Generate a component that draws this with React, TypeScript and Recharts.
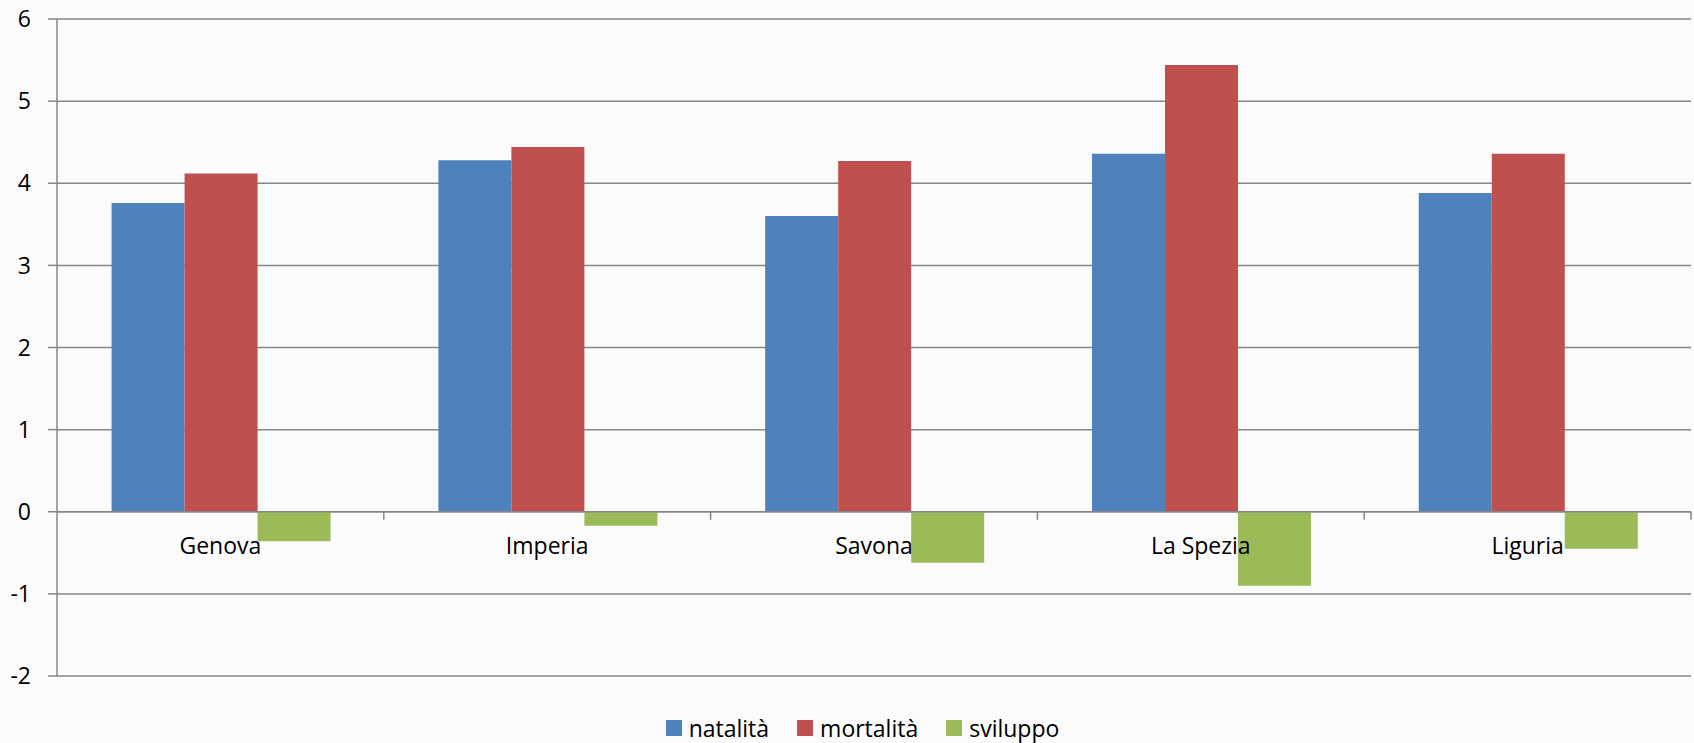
import React from 'react';
import { BarChart, Bar, XAxis, YAxis, CartesianGrid, Legend, ReferenceLine } from 'recharts';

const provinces = ['Genova', 'Imperia', 'Savona', 'La Spezia', 'Liguria'];
const natalita = [3.76, 4.28, 3.6, 4.36, 3.88];
const mortalita = [4.12, 4.44, 4.27, 5.44, 4.36];
const sviluppo = [-0.36, -0.17, -0.62, -0.9, -0.45];
const yTicks = [-2, -1, 0, 1, 2, 3, 4, 5, 6];

const series = [
  { key: 'natalita', name: 'natalità', color: '#4F81BD' },
  { key: 'mortalita', name: 'mortalità', color: '#C0504D' },
  { key: 'sviluppo', name: 'sviluppo', color: '#9BBB59' },
];

const data = provinces.map((name, i) => ({
  name,
  natalita: natalita[i],
  mortalita: mortalita[i],
  sviluppo: sviluppo[i],
}));

const FONT = '"Open Sans", "Noto Sans", sans-serif';
const AXIS = '#868686';

// category names sit under the zero line, like the Excel original
const CategoryLabels = (props: any) => {
  const { x, y, width } = props.viewBox;
  const step = width / provinces.length;
  return (
    <g>
      {provinces.map((p, i) => (
        <line key={'t' + p} x1={x + step * (i + 1)} x2={x + step * (i + 1)} y1={y} y2={y + 8} stroke={AXIS} strokeWidth={1.5} />
      ))}
      {provinces.map((p, i) => (
        <text key={p} x={x + step * (i + 0.5)} y={y + 42} textAnchor="middle" fill="#000" fontSize={23} fontFamily={FONT}>
          {p}
        </text>
      ))}
    </g>
  );
};

const renderLegend = () => (
  <div style={{ display: 'flex', justifyContent: 'center', alignItems: 'center', height: 30, paddingLeft: 62, fontFamily: FONT, fontSize: 23, color: '#000' }}>
    {series.map((s) => (
      <div key={s.key} style={{ display: 'flex', alignItems: 'center', marginRight: 28 }}>
        <span style={{ display: 'inline-block', width: 16, height: 16, background: s.color, marginRight: 7 }} />
        <span>{s.name}</span>
      </div>
    ))}
  </div>
);

const App: React.FC = () => {
  return (
    <div style={{ position: 'absolute', left: 0, top: 0, width: 1694, height: 743, background: '#fbfbfb' }}>
      <BarChart
        width={1694}
        height={743}
        data={data}
        margin={{ top: 19, right: 3, left: 0, bottom: 37 }}
        barCategoryGap="16.7%"
        barGap={0}
      >
        <CartesianGrid vertical={false} stroke={AXIS} strokeWidth={1.5} />
        <XAxis dataKey="name" hide />
        <YAxis
          domain={[-2, 6]}
          ticks={yTicks}
          interval={0}
          width={57}
          tickSize={9}
          tickMargin={17}
          axisLine={{ stroke: AXIS, strokeWidth: 1.5 }}
          tickLine={{ stroke: AXIS, strokeWidth: 1.5 }}
          tick={{ fill: '#000', fontSize: 23, fontFamily: FONT }}
        />
        {series.map((s) => (
          <Bar key={s.key} dataKey={s.key} name={s.name} fill={s.color} isAnimationActive={false} />
        ))}
        <ReferenceLine y={0} stroke={AXIS} strokeWidth={1.5} label={<CategoryLabels />} />
        <Legend verticalAlign="bottom" content={renderLegend} wrapperStyle={{ bottom: 0 }} />
      </BarChart>
    </div>
  );
};

export default App;
